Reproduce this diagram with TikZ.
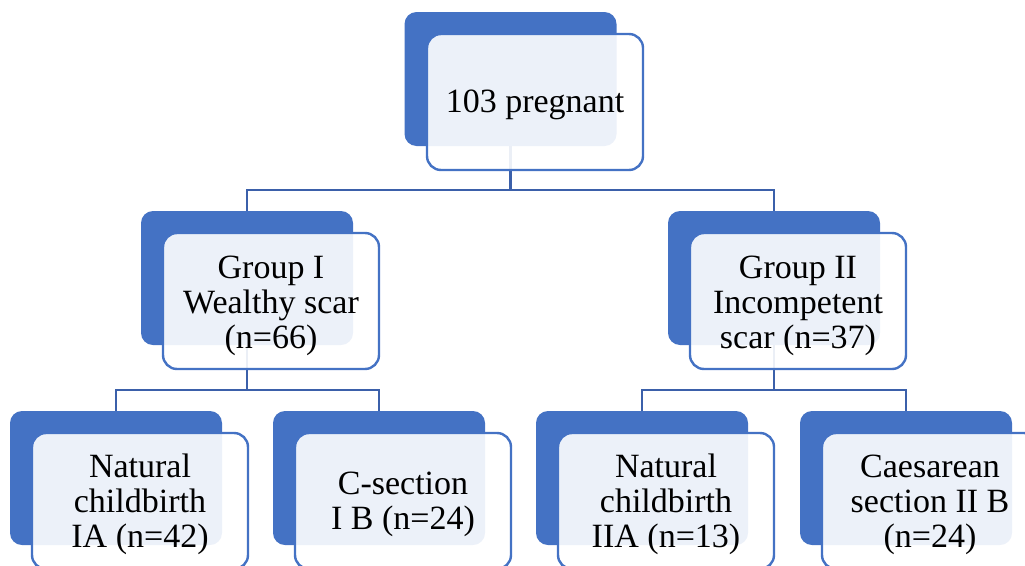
\documentclass[tikz,border=0pt]{standalone}
\usepackage{fontspec}
\setmainfont{Liberation Serif}
\definecolor{accent}{RGB}{68,114,196}
\definecolor{connblue}{RGB}{59,96,170}
\newcommand\bxtext[2][4.5pt]{\raisebox{-#1}[\height][\depth]{\begin{tabular}{@{}c@{}}#2\end{tabular}}}
\tikzset{
  backbox/.style={rectangle, fill=accent, rounded corners=12pt, minimum width=212pt, minimum height=134pt, inner sep=0pt},
  frontbox/.style={rectangle, draw=accent, line width=2.4pt, fill=white, fill opacity=0.9, text opacity=1, rounded corners=14pt, minimum width=216pt, minimum height=136pt, inner sep=0pt, align=center, font=\fontsize{34}{35}\selectfont},
  conn/.style={draw=connblue, line width=2.9pt}
}
\begin{document}
\begin{tikzpicture}[x=1pt,y=-1pt]
\path[use as bounding box] (0,0) rectangle (1025,565);
\clip (0,0) rectangle (1025,565);
% back boxes
\node[backbox] (tb) at (510.5,79) {};
\node[backbox] (lb) at (247,278) {};
\node[backbox] (rb) at (774,278) {};
\node[backbox] (l1b) at (116,478) {};
\node[backbox] (l2b) at (379,478) {};
\node[backbox] (r1b) at (642,478) {};
\node[backbox] (r2b) at (906,478) {};
% connectors
\draw[conn] (tb.south) -- (tb.south |- 0,190) -| (lb.north);
\draw[conn] (tb.south |- 0,190) -| (rb.north);
\draw[conn] (lb.south) -- (lb.south |- 0,390) -| (l1b.north);
\draw[conn] (lb.south |- 0,390) -| (l2b.north);
\draw[conn] (rb.south) -- (rb.south |- 0,390) -| (r1b.north);
\draw[conn] (rb.south |- 0,390) -| (r2b.north);
% front boxes
\node[frontbox] (t) at (535,102) {\bxtext[3.5pt]{103 pregnant}};
\node[frontbox] (l) at (271,301) {\bxtext[5pt]{Group I\\Wealthy scar\\(n=66)}};
\node[frontbox] (r) at (798,301) {\bxtext[5pt]{Group II\\Incompetent\\scar (n=37)}};
\node[frontbox] (l1) at (140,501) {\bxtext[4pt]{Natural\\childbirth\\IA (n=42)}};
\node[frontbox] (l2) at (403,501) {\bxtext[4pt]{C-section\\I B (n=24)}};
\node[frontbox] (r1) at (666,501) {\bxtext[4pt]{Natural\\childbirth\\IIA (n=13)}};
\node[frontbox] (r2) at (930,501) {\bxtext[4pt]{Caesarean\\section II B\\(n=24)}};
\end{tikzpicture}
\end{document}
